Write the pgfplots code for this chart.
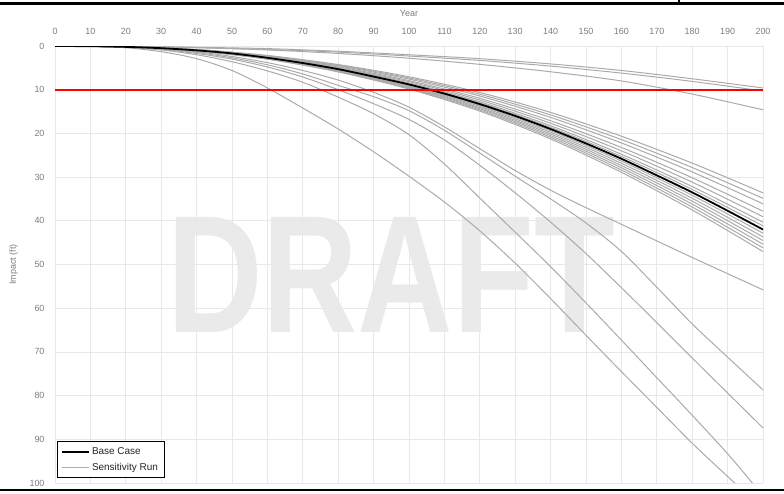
\documentclass[border=0pt]{standalone}
\usepackage{pgfplots}
\pgfplotsset{compat=1.18}
\usepackage{fontspec}
\setmainfont{Liberation Sans}
\definecolor{sens}{RGB}{170,170,170}
\definecolor{ticktxt}{RGB}{125,125,125}
\definecolor{gridc}{RGB}{232,232,232}
\begin{document}
\begin{tikzpicture}
\useasboundingbox (0,0) rectangle (784bp,494bp);
\node[text={rgb,255:red,234;green,234;blue,234}, font=\fontsize{168}{168}\selectfont\bfseries, inner sep=0, xscale=0.79] at (391bp,219bp) {DRAFT};
\begin{axis}[
  at={(55bp,11bp)}, anchor=south west,
  scale only axis, width=708bp, height=437bp,
  xmin=0, xmax=200, ymin=0, ymax=100,
  y dir=reverse,
  xtick={0,10,...,200}, ytick={0,10,...,100},
  xticklabel pos=right,
  grid=major, major grid style={draw=gridc, line width=0.8bp},
  extra x ticks={0}, extra x tick labels={}, extra x tick style={grid style={draw=black!30, line width=0.8bp}},
  axis line style={draw=none},
  major tick length=0pt,
  tick label style={font=\fontsize{9}{10}\selectfont, text=ticktxt},
  xticklabel style={yshift=8bp},
  yticklabel style={xshift=-7bp},
  /pgf/number format/assume math mode=true,
  xlabel={Year}, ylabel={Impact (ft)},
  label style={font=\fontsize{9}{10}\selectfont, text=ticktxt},
  xlabel style={yshift=5bp},
  ylabel style={yshift=5bp},
  legend style={at={(0.003,0.011)}, anchor=south west, draw=black, line width=0.8bp, font=\fontsize{10}{12}\selectfont, text=black!85, inner xsep=4bp, inner ysep=4bp, row sep=3bp},
  legend cell align=left,
  legend image code/.code={\draw[#1] (0bp,0bp) -- (27bp,0bp);},
  every axis plot/.append style={smooth, tension=0.5},
]
\addlegendimage{black, line width=1.5bp}
\addlegendentry{Base Case}
\addlegendimage{sens, line width=1bp}
\addlegendentry{Sensitivity Run}
% shallow runs
\addplot[sens, line width=1bp, forget plot] coordinates {(0,0)(20,0.1)(40,0.3)(60,0.6)(80,1.2)(100,2.0)(120,2.9)(140,4.1)(160,5.6)(180,7.5)(200,9.6)};
\addplot[sens, line width=1bp, forget plot] coordinates {(0,0)(20,0.1)(40,0.35)(60,0.8)(80,1.4)(100,2.3)(120,3.3)(140,4.6)(160,6.2)(180,8.1)(200,10.3)};
\addplot[sens, line width=1bp, forget plot] coordinates {(0,0)(20,0.1)(40,0.4)(60,0.9)(80,1.7)(100,2.8)(120,4.2)(140,5.9)(160,8.0)(180,11.0)(200,14.6)};
% bundle runs
\addplot[sens, line width=1bp, forget plot] coordinates {(0,0)(20,0.16)(40,0.8)(60,2.16)(80,4.24)(100,7.04)(120,10.64)(140,15.2)(160,20.64)(180,26.8)(200,33.6)};
\addplot[sens, line width=1bp, forget plot] coordinates {(0,0)(20,0.17)(40,0.83)(60,2.24)(80,4.40)(100,7.30)(120,11.04)(140,15.77)(160,21.41)(180,27.81)(200,34.86)};
\addplot[sens, line width=1bp, forget plot] coordinates {(0,0)(20,0.17)(40,0.86)(60,2.32)(80,4.56)(100,7.57)(120,11.44)(140,16.34)(160,22.19)(180,28.81)(200,36.12)};
\addplot[sens, line width=1bp, forget plot] coordinates {(0,0)(20,0.18)(40,0.9)(60,2.43)(80,4.77)(100,7.92)(120,11.97)(140,17.1)(160,23.22)(180,30.15)(200,37.8)};
\addplot[sens, line width=1bp, forget plot] coordinates {(0,0)(20,0.19)(40,0.93)(60,2.51)(80,4.93)(100,8.18)(120,12.37)(140,17.67)(160,23.99)(180,31.16)(200,39.06)};
\addplot[sens, line width=1bp, forget plot] coordinates {(0,0)(20,0.19)(40,0.96)(60,2.59)(80,5.09)(100,8.45)(120,12.77)(140,18.24)(160,24.77)(180,32.16)(200,40.32)};
\addplot[sens, line width=1bp, forget plot] coordinates {(0,0)(20,0.2)(40,0.98)(60,2.65)(80,5.19)(100,8.62)(120,13.03)(140,18.62)(160,25.28)(180,32.83)(200,41.16)};
\addplot[sens, line width=1bp, forget plot] coordinates {(0,0)(20,0.2)(40,1.02)(60,2.75)(80,5.41)(100,8.98)(120,13.57)(140,19.38)(160,26.32)(180,34.17)(200,42.84)};
\addplot[sens, line width=1bp, forget plot] coordinates {(0,0)(20,0.21)(40,1.04)(60,2.81)(80,5.51)(100,9.15)(120,13.83)(140,19.76)(160,26.83)(180,34.84)(200,43.68)};
\addplot[sens, line width=1bp, forget plot] coordinates {(0,0)(20,0.21)(40,1.06)(60,2.86)(80,5.62)(100,9.33)(120,14.10)(140,20.14)(160,27.35)(180,35.51)(200,44.52)};
\addplot[sens, line width=1bp, forget plot] coordinates {(0,0)(20,0.22)(40,1.08)(60,2.92)(80,5.72)(100,9.50)(120,14.36)(140,20.52)(160,27.86)(180,36.18)(200,45.36)};
\addplot[sens, line width=1bp, forget plot] coordinates {(0,0)(20,0.22)(40,1.1)(60,2.97)(80,5.83)(100,9.68)(120,14.63)(140,20.9)(160,28.38)(180,36.85)(200,46.2)};
\addplot[sens, line width=1bp, forget plot] coordinates {(0,0)(20,0.22)(40,1.12)(60,3.02)(80,5.94)(100,9.86)(120,14.90)(140,21.28)(160,28.90)(180,37.52)(200,47.04)};
% deep runs
\addplot[sens, line width=1bp, forget plot] coordinates {(0,0)(10,0.05)(20,0.2)(30,0.6)(40,1.3)(50,2.4)(60,3.8)(70,5.6)(80,7.8)(90,10.6)(100,14.0)(110,18.5)(120,23.5)(130,28.5)(140,33.0)(150,37.0)(160,40.8)(170,44.6)(180,48.4)(190,52.1)(200,55.8)};
\addplot[sens, line width=1bp, forget plot] coordinates {(0,0)(10,0.05)(20,0.3)(30,0.7)(40,1.5)(50,2.7)(60,4.3)(70,6.4)(80,9.0)(90,11.6)(100,14.8)(110,19.3)(120,24.5)(130,29.8)(140,35.0)(150,40.5)(160,47.0)(170,55.2)(180,63.6)(190,71.2)(200,78.7)};
\addplot[sens, line width=1bp, forget plot] coordinates {(0,0)(10,0.05)(20,0.3)(30,0.8)(40,1.7)(50,3.0)(60,4.8)(70,7.1)(80,10.0)(90,13.2)(100,16.8)(110,21.5)(120,27.3)(130,33.6)(140,40.3)(150,47.5)(160,55.3)(170,63.3)(180,71.4)(190,79.4)(200,87.4)};
\addplot[sens, line width=1bp, forget plot] coordinates {(0,0)(10,0.05)(20,0.3)(30,0.9)(40,2.0)(50,3.6)(60,5.7)(70,8.3)(80,11.7)(90,15.5)(100,20.3)(110,27.0)(120,34.8)(130,42.6)(140,50.5)(150,58.8)(160,67.3)(170,75.9)(180,84.5)(190,93.3)(197,100)};
\addplot[sens, line width=1bp, forget plot] coordinates {(0,0)(10,0.1)(20,0.4)(30,1.3)(40,2.9)(50,5.6)(60,9.6)(70,14.2)(80,19.0)(90,24.2)(100,29.8)(110,35.7)(120,42.3)(130,49.7)(140,57.8)(150,66.2)(160,74.5)(170,82.7)(180,90.9)(190,98.5)(192,100)};
% base case
\addplot[black, line width=1.8bp, forget plot] coordinates {(0,0)(10,0.05)(20,0.2)(30,0.5)(40,1.0)(50,1.7)(60,2.7)(70,3.9)(80,5.3)(90,7.0)(100,8.8)(110,10.9)(120,13.3)(130,16.0)(140,19.0)(150,22.3)(160,25.8)(170,29.6)(180,33.5)(190,37.7)(200,42.0)};
% threshold
\addplot[color=red, line width=1.6bp, sharp plot, forget plot] coordinates {(0,10) (200,10)};
\end{axis}
\draw[line width=2.5bp] (0,490.5bp) -- (784bp,490.5bp);
\draw[line width=1.5bp] (679bp,494bp) -- (679bp,490bp);
\draw[line width=2.5bp] (0,4bp) -- (784bp,4bp);
\end{tikzpicture}
\end{document}
